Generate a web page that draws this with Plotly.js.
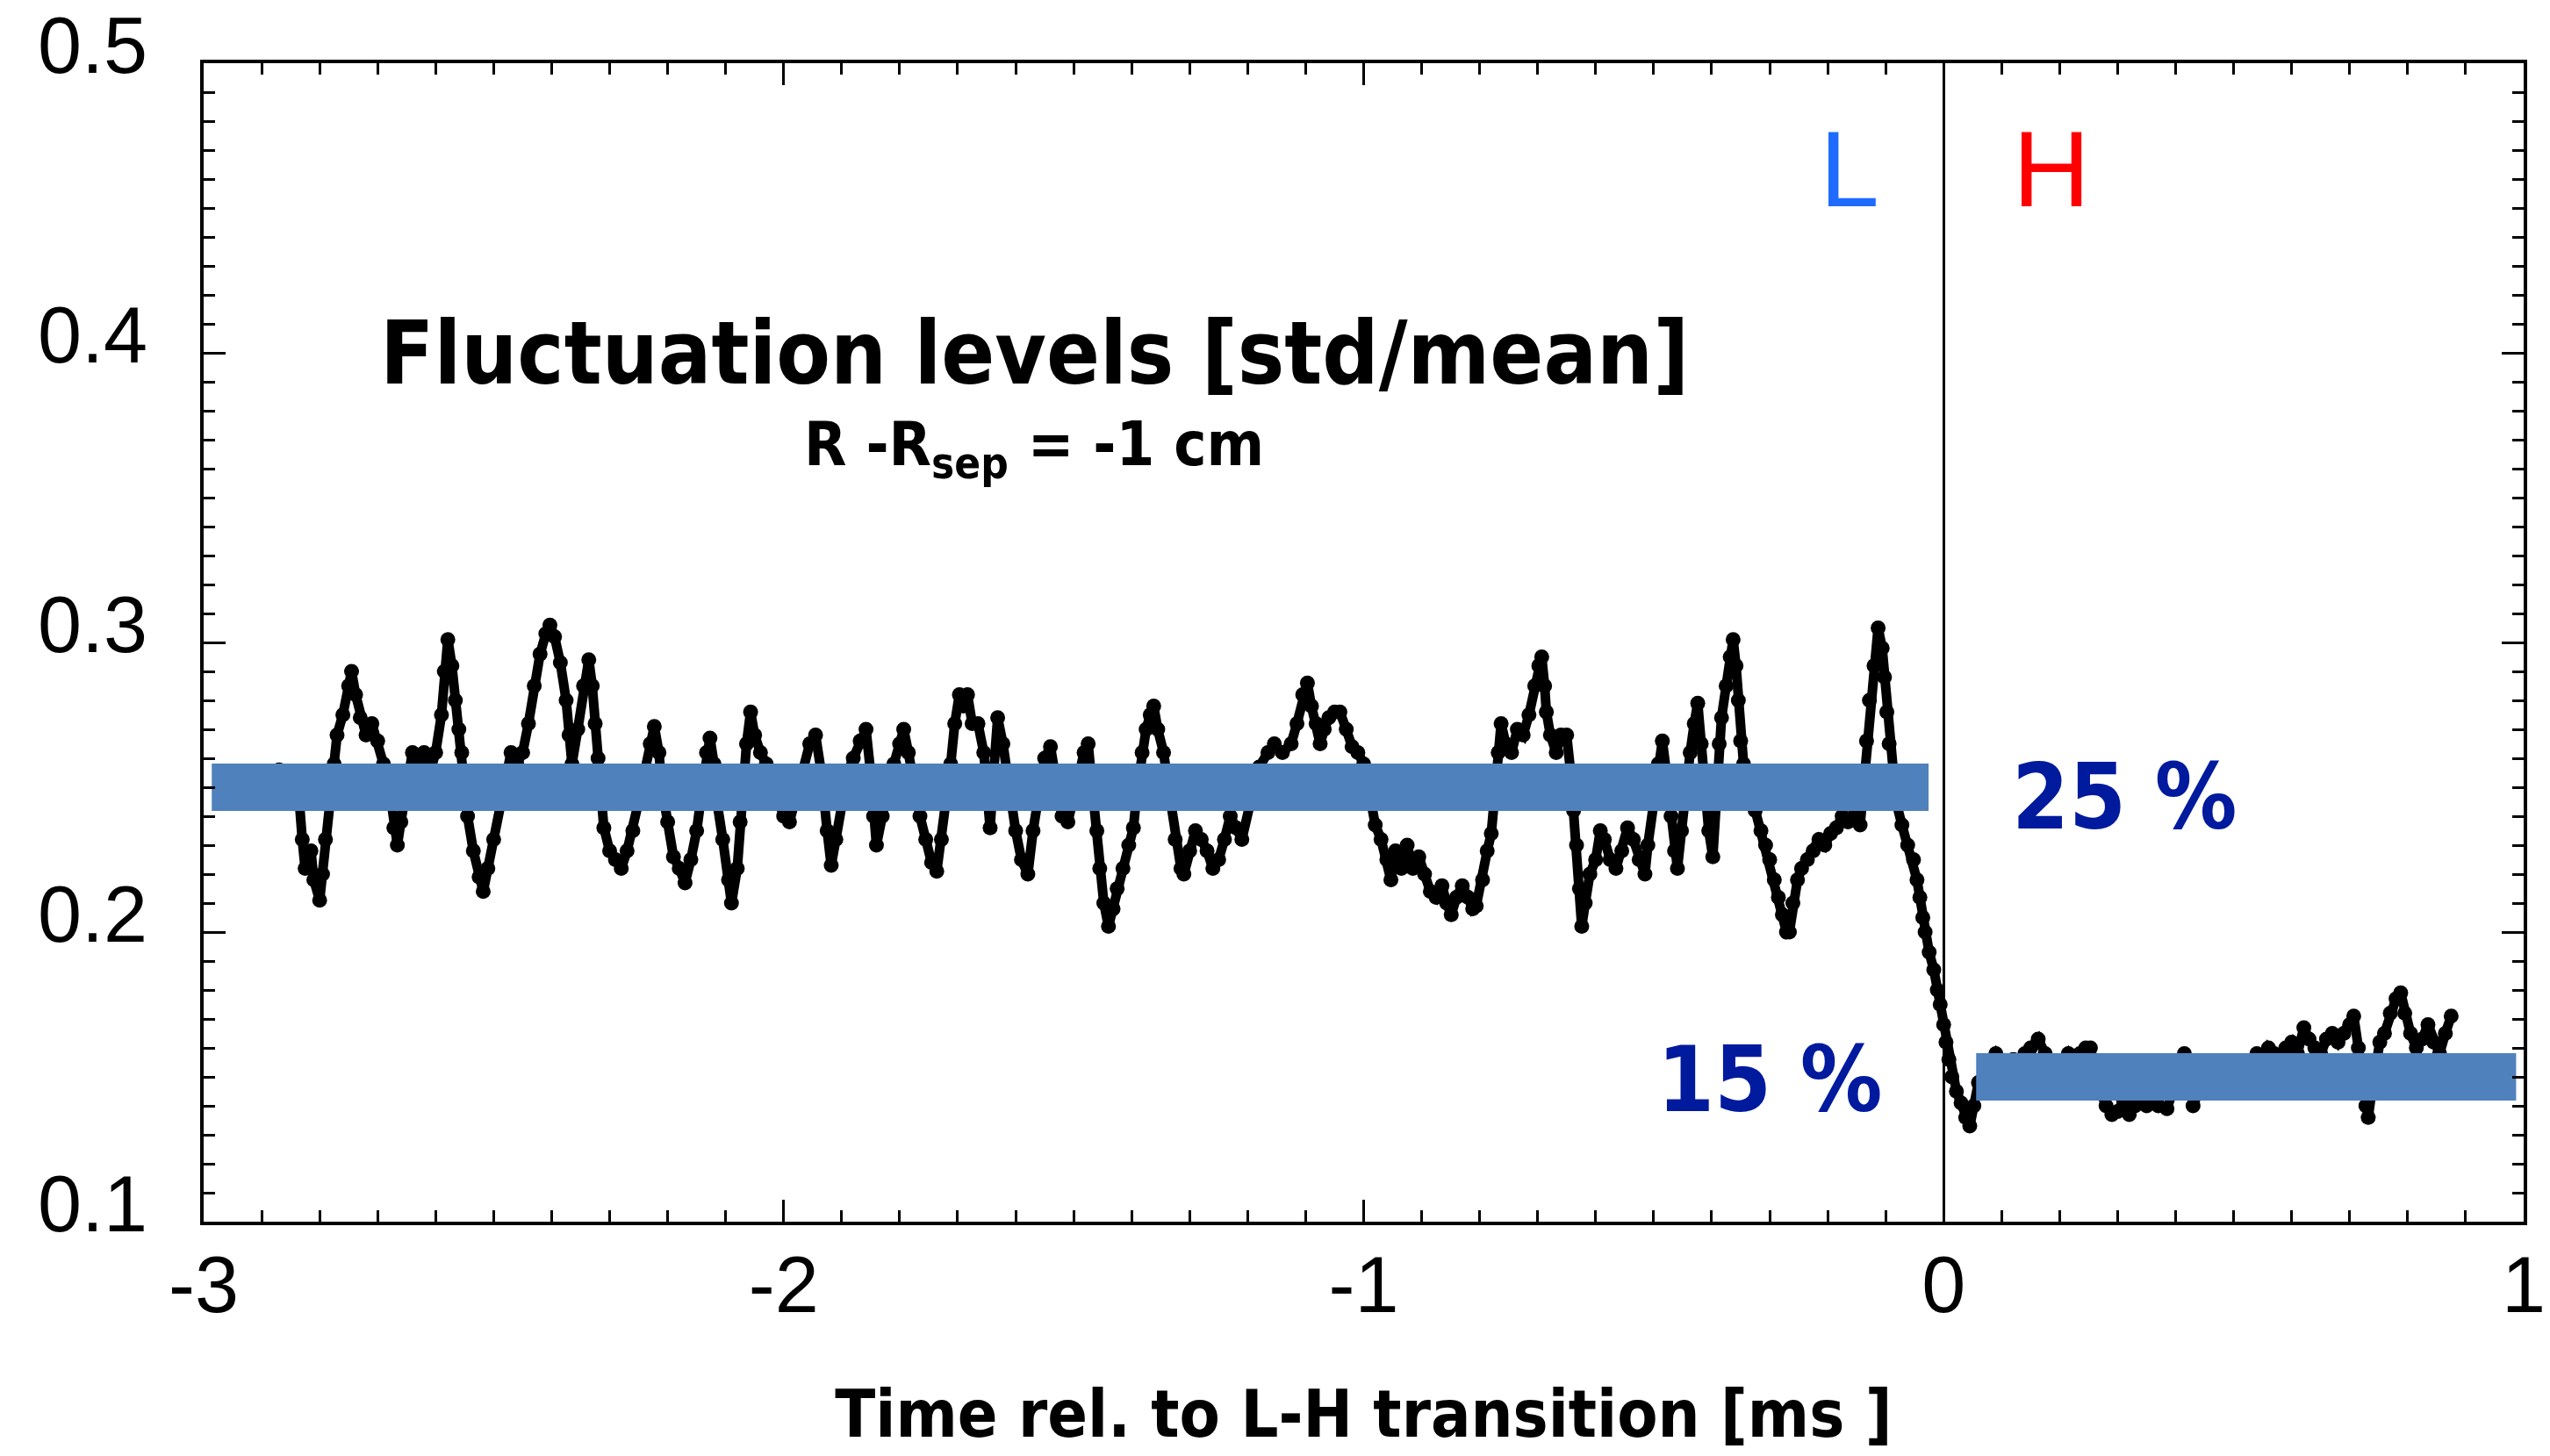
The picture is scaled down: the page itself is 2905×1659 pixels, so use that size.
<!DOCTYPE html>
<html>
<head>
<meta charset="utf-8">
<script src="https://cdn.plot.ly/plotly-3.0.1.min.js"></script>
<style>
  html, body { margin: 0; padding: 0; background: #ffffff; }
  #chart { width: 2905px; height: 1659px; }
</style>
</head>
<body>
<div id="chart"></div>
<script>
// Fluctuation level (std/mean) at R - Rsep = -1 cm, time relative to the L-H transition [ms]
const timeMs = [
  -2.89, -2.87, -2.85, -2.835, -2.83, -2.825, -2.815, -2.81, -2.80, -2.795, -2.79, -2.78, -2.775, -2.77, -2.76, -2.75,
  -2.745, -2.738, -2.73, -2.72, -2.71, -2.70, -2.69, -2.68, -2.672, -2.666, -2.66, -2.65, -2.64, -2.63, -2.62, -2.61,
  -2.60, -2.59, -2.585, -2.579, -2.572, -2.566, -2.56, -2.555, -2.55, -2.545, -2.535, -2.525, -2.518, -2.51, -2.50, -2.49,
  -2.48, -2.47, -2.46, -2.45, -2.44, -2.43, -2.42, -2.41, -2.403, -2.395, -2.385, -2.375, -2.37, -2.365, -2.355, -2.345,
  -2.336, -2.33, -2.325, -2.32, -2.315, -2.31, -2.30, -2.29, -2.28, -2.27, -2.26, -2.25, -2.24, -2.23, -2.223, -2.215,
  -2.21, -2.20, -2.19, -2.18, -2.17, -2.16, -2.15, -2.14, -2.133, -2.127, -2.12, -2.115, -2.105, -2.095, -2.09, -2.08,
  -2.075, -2.07, -2.064, -2.057, -2.05, -2.04, -2.03, -2.02, -2.01, -2.00, -1.99, -1.98, -1.97, -1.955, -1.945, -1.935,
  -1.925, -1.918, -1.91, -1.90, -1.89, -1.88, -1.868, -1.858, -1.85, -1.845, -1.84, -1.83, -1.82, -1.81, -1.80, -1.793,
  -1.785, -1.775, -1.765, -1.755, -1.745, -1.736, -1.728, -1.72, -1.712, -1.705, -1.697, -1.69, -1.683, -1.675, -1.665, -1.655,
  -1.648, -1.644, -1.638, -1.631, -1.622, -1.612, -1.60, -1.59, -1.579, -1.57, -1.56, -1.55, -1.54, -1.53, -1.52, -1.51,
  -1.50, -1.49, -1.482, -1.475, -1.468, -1.46, -1.455, -1.448, -1.44, -1.432, -1.425, -1.415, -1.405, -1.397, -1.39, -1.382,
  -1.375, -1.368, -1.362, -1.355, -1.345, -1.335, -1.325, -1.315, -1.31, -1.30, -1.29, -1.28, -1.27, -1.26, -1.25, -1.24,
  -1.23, -1.22, -1.21, -1.195, -1.18, -1.165, -1.154, -1.14, -1.125, -1.115, -1.105, -1.097, -1.09, -1.082, -1.075, -1.068,
  -1.06, -1.05, -1.041, -1.03, -1.02, -1.01, -1.00, -0.99, -0.98, -0.97, -0.96, -0.953, -0.945, -0.935, -0.925, -0.915,
  -0.905, -0.895, -0.885, -0.875, -0.865, -0.857, -0.849, -0.84, -0.83, -0.82, -0.812, -0.806, -0.795, -0.787, -0.78, -0.775,
  -0.768, -0.763, -0.755, -0.745, -0.735, -0.725, -0.715, -0.705, -0.698, -0.693, -0.688, -0.685, -0.678, -0.668, -0.66, -0.65,
  -0.643, -0.638, -0.633, -0.628, -0.624, -0.618, -0.61, -0.60, -0.592, -0.585, -0.575, -0.565, -0.555, -0.545, -0.535, -0.525,
  -0.515, -0.51, -0.50, -0.492, -0.485, -0.478, -0.47, -0.464, -0.459, -0.452, -0.445, -0.437, -0.43, -0.424, -0.418, -0.412,
  -0.405, -0.398, -0.392, -0.387, -0.383, -0.375, -0.368, -0.363, -0.358, -0.354, -0.35, -0.345, -0.335, -0.325, -0.315, -0.307,
  -0.30, -0.292, -0.285, -0.278, -0.271, -0.266, -0.26, -0.252, -0.245, -0.235, -0.225, -0.215, -0.205, -0.195, -0.185, -0.175,
  -0.165, -0.155, -0.144, -0.138, -0.133, -0.128, -0.12, -0.113, -0.106, -0.102, -0.098, -0.094, -0.09, -0.082, -0.072, -0.062,
  -0.052, -0.046, -0.041, -0.036, -0.032, -0.025, -0.017, -0.011, -0.006, 0.0, 0.004, 0.009, 0.014, 0.022, 0.03, 0.038,
  0.045, 0.052, 0.06, 0.07, 0.08, 0.09, 0.10, 0.11, 0.12, 0.13, 0.14, 0.15, 0.163, 0.175, 0.185, 0.195,
  0.205, 0.215, 0.225, 0.235, 0.245, 0.253, 0.262, 0.27, 0.28, 0.29, 0.30, 0.31, 0.32, 0.33, 0.34, 0.35,
  0.36, 0.37, 0.385, 0.395, 0.405, 0.415, 0.425, 0.43, 0.44, 0.45, 0.46, 0.47, 0.48, 0.49, 0.50, 0.51,
  0.52, 0.53, 0.54, 0.55, 0.56, 0.57, 0.58, 0.59, 0.60, 0.61, 0.621, 0.63, 0.64, 0.65, 0.66, 0.67,
  0.68, 0.69, 0.70, 0.707, 0.715, 0.722, 0.728, 0.732, 0.738, 0.745, 0.752, 0.76, 0.77, 0.78, 0.788, 0.795,
  0.805, 0.815, 0.825, 0.835, 0.845, 0.855, 0.865, 0.875
];
const fluctLevel = [
  0.255, 0.256, 0.255, 0.245, 0.232, 0.222, 0.228, 0.218, 0.211, 0.220, 0.232, 0.245, 0.258, 0.268, 0.275, 0.285,
  0.290, 0.282, 0.274, 0.268, 0.272, 0.266, 0.258, 0.250, 0.236, 0.230, 0.238, 0.250, 0.262, 0.258, 0.262, 0.255,
  0.262, 0.275, 0.290, 0.301, 0.292, 0.280, 0.270, 0.262, 0.250, 0.240, 0.228, 0.219, 0.214, 0.222, 0.232, 0.245,
  0.255, 0.262, 0.258, 0.262, 0.272, 0.285, 0.296, 0.303, 0.306, 0.302, 0.293, 0.280, 0.268, 0.258, 0.270, 0.285,
  0.294, 0.285, 0.272, 0.260, 0.248, 0.236, 0.228, 0.225, 0.222, 0.228, 0.235, 0.245, 0.255, 0.265, 0.271, 0.262,
  0.250, 0.238, 0.226, 0.222, 0.217, 0.225, 0.235, 0.250, 0.262, 0.267, 0.258, 0.245, 0.232, 0.218, 0.210, 0.222,
  0.238, 0.252, 0.265, 0.276, 0.268, 0.262, 0.258, 0.252, 0.245, 0.240, 0.238, 0.245, 0.255, 0.265, 0.268, 0.255,
  0.235, 0.223, 0.232, 0.245, 0.255, 0.260, 0.266, 0.270, 0.255, 0.240, 0.230, 0.240, 0.250, 0.258, 0.265, 0.270,
  0.262, 0.250, 0.240, 0.232, 0.224, 0.221, 0.232, 0.245, 0.258, 0.272, 0.282, 0.278, 0.282, 0.272, 0.272, 0.262,
  0.245, 0.236, 0.255, 0.274, 0.265, 0.250, 0.235, 0.225, 0.220, 0.235, 0.250, 0.260, 0.264, 0.252, 0.240, 0.238,
  0.245, 0.255, 0.262, 0.265, 0.250, 0.235, 0.222, 0.210, 0.202, 0.208, 0.215, 0.222, 0.230, 0.236, 0.250, 0.262,
  0.270, 0.275, 0.278, 0.270, 0.262, 0.248, 0.232, 0.222, 0.220, 0.228, 0.235, 0.232, 0.228, 0.222, 0.225, 0.232,
  0.240, 0.236, 0.232, 0.245, 0.257, 0.262, 0.265, 0.262, 0.265, 0.272, 0.282, 0.286, 0.278, 0.272, 0.265, 0.270,
  0.274, 0.276, 0.276, 0.270, 0.264, 0.262, 0.258, 0.248, 0.237, 0.232, 0.225, 0.218, 0.228, 0.222, 0.230, 0.222,
  0.226, 0.220, 0.214, 0.212, 0.216, 0.210, 0.206, 0.212, 0.216, 0.212, 0.208, 0.209, 0.218, 0.228, 0.234, 0.248,
  0.262, 0.272, 0.265, 0.262, 0.270, 0.268, 0.275, 0.285, 0.292, 0.295, 0.285, 0.276, 0.268, 0.262, 0.268, 0.268,
  0.255, 0.242, 0.230, 0.215, 0.202, 0.210, 0.220, 0.225, 0.235, 0.232, 0.225, 0.222, 0.228, 0.236, 0.232, 0.225,
  0.220, 0.230, 0.245, 0.258, 0.266, 0.255, 0.240, 0.228, 0.222, 0.235, 0.250, 0.262, 0.272, 0.279, 0.265, 0.250,
  0.235, 0.226, 0.250, 0.265, 0.274, 0.285, 0.295, 0.301, 0.292, 0.280, 0.266, 0.258, 0.250, 0.242, 0.235, 0.230,
  0.225, 0.218, 0.212, 0.206, 0.200, 0.200, 0.210, 0.218, 0.222, 0.225, 0.228, 0.232, 0.230, 0.234, 0.236, 0.240,
  0.238, 0.240, 0.237, 0.250, 0.266, 0.280, 0.292, 0.305, 0.298, 0.288, 0.276, 0.265, 0.255, 0.245, 0.237, 0.230,
  0.225, 0.218, 0.212, 0.205, 0.200, 0.193, 0.187, 0.180, 0.175, 0.168, 0.162, 0.156, 0.150, 0.145, 0.141, 0.136,
  0.133, 0.140, 0.148, 0.152, 0.155, 0.158, 0.155, 0.152, 0.156, 0.155, 0.158, 0.160, 0.163, 0.158, 0.155, 0.152,
  0.155, 0.158, 0.155, 0.158, 0.160, 0.160, 0.152, 0.145, 0.140, 0.137, 0.138, 0.142, 0.137, 0.140, 0.145, 0.140,
  0.143, 0.140, 0.139, 0.145, 0.155, 0.158, 0.148, 0.140, 0.145, 0.150, 0.148, 0.150, 0.145, 0.148, 0.152, 0.155,
  0.155, 0.152, 0.158, 0.155, 0.160, 0.158, 0.156, 0.160, 0.162, 0.158, 0.167, 0.163, 0.160, 0.158, 0.163, 0.165,
  0.162, 0.165, 0.168, 0.171, 0.160, 0.148, 0.140, 0.136, 0.145, 0.155, 0.162, 0.165, 0.172, 0.177, 0.179, 0.172,
  0.165, 0.160, 0.163, 0.168, 0.162, 0.158, 0.165, 0.171
];

// Mean levels of the L-mode and H-mode phases
const phaseLevels = [0.25, 0.15];
const phaseStart = [-2.986, 0.056];
const phaseEnd = [-0.026, 0.987];
const phaseLabels = ['25 %', '15 %'];

// Axis ticks: labelled majors, unlabelled half-step majors
const xTickVals = [-3, -2, -1, 0, 1];
const xTickText = ['-3', '-2', '-1', '0', '1'];
const xHalfTicks = [-2.5, -1.5, -0.5, 0.5];
const yTickVals = [0.1, 0.2, 0.3, 0.4, 0.5];
const yTickText = ['0.1', '0.2', '0.3', '0.4', '0.5'];
const yHalfTicks = [0.15, 0.25, 0.35, 0.45];

const gothic = 'Liberation Sans Narrow, DejaVu Sans Condensed, Arial Narrow, sans-serif';
const helv = 'Liberation Sans, Arial, Helvetica, sans-serif';
const barColor = '#4f81bd';
const pctColor = '#001a9e';

const traces = [
  {
    type: 'scatter',
    mode: 'lines+markers',
    x: timeMs,
    y: fluctLevel,
    line: { color: '#000000', width: 11 },
    marker: { color: '#000000', size: 17 },
    hoverinfo: 'x+y'
  }
];
phaseLevels.forEach((lvl, i) => {
  traces.push({
    type: 'scatter',
    mode: 'lines',
    x: [phaseStart[i], phaseEnd[i]],
    y: [lvl, lvl],
    line: { color: barColor, width: 54 },
    hoverinfo: 'y'
  });
});

const frame = {
  showline: true,
  linecolor: '#000000',
  linewidth: 4,
  mirror: 'ticks',
  ticks: 'inside',
  tickcolor: '#000000',
  tickwidth: 3,
  ticklen: 25,
  showgrid: false,
  zeroline: false,
  tickmode: 'array'
};
const minorTicks = { tickmode: 'linear', ticks: 'inside', ticklen: 13, tickwidth: 3, tickcolor: '#000000', showgrid: false };
const tickFont = { family: helv, size: 90, color: '#000000' };

const layout = {
  width: 2905,
  height: 1659,
  margin: { l: 232, r: 30, t: 72, b: 267 },
  paper_bgcolor: '#ffffff',
  plot_bgcolor: '#ffffff',
  showlegend: false,
  xaxis: Object.assign({}, frame, {
    range: [-3, 1],
    tickvals: xTickVals,
    ticktext: xTickText,
    tickfont: tickFont,
    zeroline: true,
    zerolinecolor: '#000000',
    zerolinewidth: 3,
    ticklabelstandoff: -9,
    minor: Object.assign({ tick0: 0, dtick: 0.1 }, minorTicks),
    title: {
      text: 'Time rel. to L-H transition [ms ]',
      font: { family: gothic, size: 75, color: '#000000', weight: 'bold' },
      standoff: 72
    }
  }),
  yaxis: Object.assign({}, frame, {
    range: [0.1, 0.5],
    tickvals: yTickVals,
    ticktext: yTickText,
    tickfont: tickFont,
    ticklabelshift: -21,
    ticklabelstandoff: 42,
    minor: Object.assign({ tick0: 0.1, dtick: 0.01 }, minorTicks)
  }),
  xaxis2: Object.assign({}, frame, {
    overlaying: 'x',
    anchor: 'y',
    side: 'bottom',
    range: [-3, 1],
    tickvals: xHalfTicks,
    showticklabels: false
  }),
  yaxis2: Object.assign({}, frame, {
    overlaying: 'y',
    anchor: 'x',
    side: 'left',
    range: [0.1, 0.5],
    tickvals: yHalfTicks,
    showticklabels: false
  }),
  annotations: [
    {
      x: -1.568, y: 0.400, xref: 'x', yref: 'y', xanchor: 'center', yanchor: 'middle',
      text: 'Fluctuation levels [std/mean]', showarrow: false,
      font: { family: gothic, size: 100, color: '#000000', weight: 'bold' }
    },
    {
      x: -1.568, y: 0.367, xref: 'x', yref: 'y', xanchor: 'center', yanchor: 'middle',
      text: 'R -R<sub>sep</sub> = -1 cm', showarrow: false,
      font: { family: gothic, size: 70, color: '#000000', weight: 'bold' }
    },
    {
      x: -0.162, y: 0.4632, xref: 'x', yref: 'y', xanchor: 'center', yanchor: 'middle',
      text: 'L', showarrow: false,
      font: { family: helv, size: 122, color: '#1f6bff' }
    },
    {
      x: 0.186, y: 0.4632, xref: 'x', yref: 'y', xanchor: 'center', yanchor: 'middle',
      text: 'H', showarrow: false,
      font: { family: helv, size: 122, color: '#ff0000' }
    },
    {
      x: 0.312, y: 0.2466, xref: 'x', yref: 'y', xanchor: 'center', yanchor: 'middle',
      text: phaseLabels[0], showarrow: false,
      font: { family: gothic, size: 104, color: pctColor, weight: 'bold' }
    },
    {
      x: -0.300, y: 0.149, xref: 'x', yref: 'y', xanchor: 'center', yanchor: 'middle',
      text: phaseLabels[1], showarrow: false,
      font: { family: gothic, size: 104, color: pctColor, weight: 'bold' }
    }
  ]
};

Plotly.newPlot('chart', traces, layout, { displayModeBar: false, staticPlot: true });
</script>
</body>
</html>
